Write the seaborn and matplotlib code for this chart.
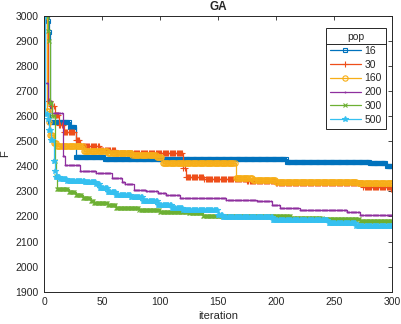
import numpy as np
import pandas as pd
import matplotlib
matplotlib.use("Agg")
import matplotlib.pyplot as plt
import seaborn as sns
from matplotlib.lines import Line2D

# ---- data: step breakpoints (iteration where value changes, value) ----
iters = np.arange(0, 301)

it_16 = [0, 3, 4, 5, 22, 27, 52, 209, 281, 295]
F_16 = [3000, 2980, 2935, 2577, 2557, 2436, 2428, 2418, 2412, 2401]

it_30 = [0, 3, 6, 9, 13, 17, 27, 31, 48, 62, 120, 122, 138, 175, 200, 275, 299]
F_30 = [3000, 2660, 2640, 2604, 2565, 2537, 2504, 2480, 2465, 2452, 2392, 2358,
        2348, 2342, 2333, 2318, 2310]

it_160 = [0, 2, 4, 5, 8, 11, 34, 55, 76, 97, 102, 165, 180, 200, 270]
F_160 = [3000, 2620, 2577, 2524, 2491, 2480, 2462, 2452, 2445, 2436, 2413, 2352,
         2345, 2338, 2335]

it_200 = [0, 1, 3, 7, 16, 18, 31, 45, 58, 67, 70, 77, 88, 98, 105, 117, 157, 183,
          196, 203, 220, 261, 272]
F_200 = [3000, 2730, 2660, 2611, 2440, 2405, 2382, 2372, 2352, 2338, 2330, 2305,
         2300, 2292, 2285, 2275, 2267, 2260, 2245, 2232, 2225, 2218, 2206]

it_300 = [0, 3, 4, 5, 7, 9, 10, 11, 21, 27, 33, 40, 43, 55, 62, 82, 100, 125, 137,
          153, 213, 240, 272]
F_300 = [3000, 2940, 2900, 2650, 2600, 2420, 2360, 2308, 2298, 2285, 2272, 2262,
         2252, 2245, 2232, 2225, 2219, 2212, 2203, 2200, 2194, 2190, 2180]

it_500 = [0, 1, 3, 4, 6, 8, 9, 10, 14, 20, 35, 45, 48, 55, 62, 75, 85, 98, 110,
          120, 150, 154, 197, 245, 269]
F_500 = [3000, 2610, 2590, 2545, 2505, 2420, 2380, 2358, 2348, 2342, 2336, 2328,
         2312, 2298, 2285, 2278, 2260, 2245, 2232, 2225, 2206, 2199, 2186, 2173, 2162]

pops = ["16", "30", "160", "200", "300", "500"]
breaks = {"16": (it_16, F_16), "30": (it_30, F_30), "160": (it_160, F_160),
          "200": (it_200, F_200), "300": (it_300, F_300), "500": (it_500, F_500)}

colors = {"16": "#0072BD", "30": "#EE4E1A", "160": "#F7AE17",
          "200": "#8E2F9E", "300": "#6DB033", "500": "#35C0F0"}
markers = {"16": "s", "30": "+", "160": "o", "200": ".", "300": "x", "500": "*"}
msizes = {"16": 3.0, "30": 5.0, "160": 3.8, "200": 1.2, "300": 2.6, "500": 4.2}
mfcs = {"16": "none", "30": None, "160": "none", "200": None, "300": None, "500": None}

rows = []
for p in pops:
    it, F = breaks[p]
    idx = np.searchsorted(np.array(it), iters, side="right") - 1
    vals = np.array(F)[idx]
    rows.append(pd.DataFrame({"iteration": iters, "F": vals, "pop": p}))
df = pd.concat(rows, ignore_index=True)

# ---- figure ----
sns.set_style("white")
plt.rcParams["font.family"] = ["Liberation Sans", "DejaVu Sans"]
dark = "#262626"

fig = plt.figure(figsize=(4.02, 3.24), dpi=100)
ax = fig.add_axes([0.110, 0.0997, 0.866, 0.852])

for p in pops:
    sub = df[df["pop"] == p]
    kw = dict(marker=markers[p], markersize=msizes[p], markeredgewidth=0.8,
              markeredgecolor=colors[p], linewidth=0.9, drawstyle="steps-post")
    kw["markerfacecolor"] = mfcs[p] if mfcs[p] is not None else colors[p]
    sns.lineplot(data=sub, x="iteration", y="F", color=colors[p], label=p,
                 ax=ax, estimator=None, sort=False, **kw)

ax.set_xlim(0, 300)
ax.set_ylim(1900, 3000)
ax.set_xticks(np.arange(0, 301, 50))
ax.set_yticks(np.arange(1900, 3001, 100))
ax.tick_params(direction="in", length=3, width=0.6, colors=dark, labelsize=7.5,
               top=True, right=True, labelcolor=dark, pad=4)
for s in ax.spines.values():
    s.set_color(dark)
    s.set_linewidth(0.7)
    s.set_visible(True)

ax.set_xlabel("iteration", fontsize=8, color=dark, labelpad=3)
ax.set_ylabel("F", fontsize=8, color=dark, labelpad=4)
ax.set_title("GA", fontsize=8.5, fontweight="bold", color=dark, pad=4)

leg = ax.legend(title="pop", loc="upper right", bbox_to_anchor=(0.981, 0.955),
                borderaxespad=0, fontsize=7.5, title_fontsize=7.5,
                fancybox=False, framealpha=1, edgecolor=dark,
                handlelength=3.0, handletextpad=0.3, labelspacing=0.36,
                borderpad=0.4, numpoints=1)
leg.get_frame().set_linewidth(0.7)
for t in leg.get_texts():
    t.set_color(dark)
leg.get_title().set_color(dark)

fig.canvas.draw()
lb = leg.get_window_extent()
tb = leg.get_title().get_window_extent()
ysep = tb.y0 - 2
inv = fig.transFigure.inverted()
(x0f, yf) = inv.transform((lb.x0, ysep))
(x1f, _) = inv.transform((lb.x1, ysep))
fig.add_artist(Line2D([x0f, x1f], [yf, yf], color=dark, linewidth=0.7))

fig.savefig("out.png", dpi=100)
